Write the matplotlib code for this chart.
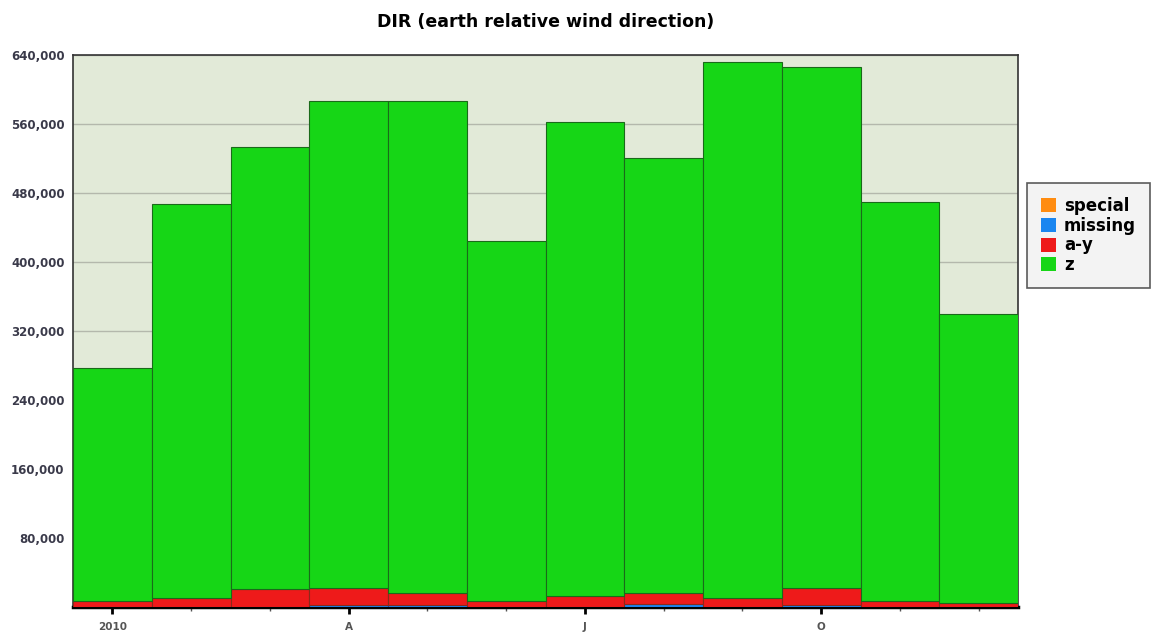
import numpy as np
import matplotlib.pyplot as plt
from matplotlib.patches import Patch

# monthly counts, 2010
months = ["Jan", "Feb", "Mar", "Apr", "May", "Jun",
          "Jul", "Aug", "Sep", "Oct", "Nov", "Dec"]
totals = [277000, 467000, 533500, 586500, 586500, 424500,
          562500, 520500, 632000, 626000, 469500, 339500]
special = [0, 0, 0, 0, 0, 0, 0, 0, 0, 0, 0, 0]
missing = [0, 0, 500, 2300, 2300, 0, 0, 3500, 0, 2000, 0, 0]
a_y = [7000, 10800, 20000, 19700, 14000, 7000, 12700, 13000, 10800, 19700, 7000, 4300]
tick_pos = [0, 3, 6, 9]
tick_labels = ["2010", "A", "J", "O"]

special = np.array(special)
missing = np.array(missing)
a_y = np.array(a_y)
z = np.array(totals) - special - missing - a_y

fig = plt.figure(figsize=(11.53, 6.33), dpi=100)
ax = fig.add_axes([0.0633, 0.041, 0.8197, 0.872])
ax.set_facecolor("#e2ead8")

x = np.arange(len(months))
colors = {"special": "#ff8c10", "missing": "#1a86f0", "a-y": "#ee1a1a", "z": "#16d616"}
edges = {"special": "#8a5a10", "missing": "#30409a", "a-y": "#8a2a1a", "z": "#1a6a1a"}

bottom = np.zeros(len(months))
for name, vals in [("special", special), ("missing", missing), ("a-y", a_y), ("z", z)]:
    ax.bar(x, vals, width=1.0, bottom=bottom, color=colors[name],
           edgecolor=edges[name], linewidth=0.8, zorder=3)
    bottom = bottom + vals

ax.set_xlim(-0.5, 11.5)
ax.set_ylim(0, 640000)
ax.set_yticks(np.arange(80000, 640001, 80000))
ax.set_yticklabels([f"{v:,}" for v in range(80000, 640001, 80000)],
                   fontsize=8.5, fontweight="bold", color="#3a3a4a")
ax.yaxis.grid(True, color="#b4b8ac", linewidth=1, zorder=0)
ax.tick_params(axis="y", length=0, pad=6)

ax.set_xticks(tick_pos)
ax.set_xticklabels(tick_labels, fontsize=7.5, fontweight="bold", color="#555555")
ax.set_xticks([i for i in x if i not in tick_pos], minor=True)
ax.tick_params(axis="x", which="major", length=5, width=2, color="black", pad=6)
ax.tick_params(axis="x", which="minor", length=3, width=1, color="#555555")

for side in ["left", "right", "top"]:
    ax.spines[side].set_color("#333333")
    ax.spines[side].set_linewidth(1.2)
ax.spines["bottom"].set_color("black")
ax.spines["bottom"].set_linewidth(2.5)

ax.set_title("DIR (earth relative wind direction)", fontsize=12.5,
             fontweight="bold", pad=20)

handles = [Patch(facecolor=colors[k], edgecolor="none") for k in ["special", "missing", "a-y", "z"]]
leg = fig.legend(handles, ["special", "missing", "a-y", "z"],
                 loc="upper left", bbox_to_anchor=(0.891, 0.711),
                 prop={"weight": "bold", "size": 12}, frameon=True,
                 fancybox=False, handlelength=0.9, handleheight=0.9,
                 handletextpad=0.45, labelspacing=0.1, borderpad=0.85,
                 borderaxespad=0)
leg.get_frame().set_facecolor("#f0f0f0")
leg.get_frame().set_edgecolor("#333333")
leg.get_frame().set_linewidth(1.2)

fig.savefig("out.png", dpi=100)
